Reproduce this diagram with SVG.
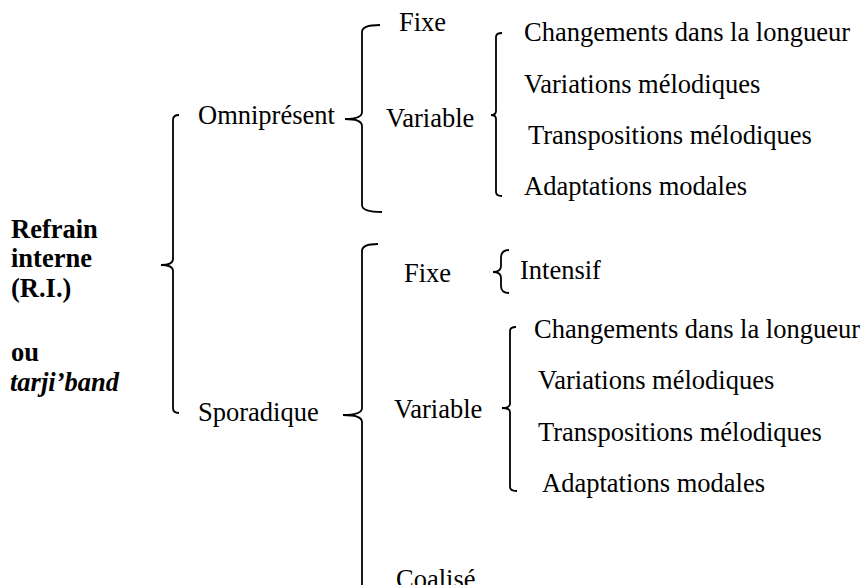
<svg xmlns="http://www.w3.org/2000/svg" width="865" height="585" viewBox="0 0 865 585">
<style>
text{font-family:"Liberation Serif","Times New Roman",serif;font-size:26.5px;fill:#000}
.b{font-weight:bold}
.bi{font-weight:bold;font-style:italic}
.br{fill:none;stroke:#000;stroke-width:1.8;stroke-linecap:butt}
</style>
<rect width="865" height="585" fill="#fff"/>
<g id="connectors">
<path class="br" d="M179,115 Q173,115 173,120 L173,259 Q173,265 161,265 Q173,265 173,271 L173,408 Q173,413 179,413"/>
<path class="br" d="M380,25 Q362,25 362,32 L362,112 Q362,119 345,119 Q362,119 362,126 L362,205 Q362,212 382,212"/>
<path class="br" d="M502,33 Q496,33 496,37 L496,111 Q496,115 491,115 Q496,115 496,119 L496,192 Q496,196 502,196"/>
<path class="br" d="M378,244 Q362,244 362,251 L362,408 Q362,415 343,415 Q362,415 362,422 L362,600"/>
<path class="br" d="M509,250 Q501,250 501,258 L501,266 Q501,272 493,272 Q501,272 501,278 L501,286 Q501,293 509,293"/>
<path class="br" d="M516,327 Q510,327 510,331 L510,404 Q510,408 502,408 Q510,408 510,412 L510,487 Q510,491 517,491"/>
</g>
<g id="root">
<text class="b" x="11" y="238">Refrain</text>
<text class="b" x="11" y="267">interne</text>
<text class="b" x="11" y="297">(R.I.)</text>
<text class="b" x="11" y="361">ou</text>
<text class="bi" x="10" y="391">tarji’band</text>
</g>
<g id="omnipresent"><text x="198" y="124">Omniprésent</text></g>
<g id="omni-fixe"><text x="399" y="31">Fixe</text></g>
<g id="omni-variable"><text x="386" y="127">Variable</text></g>
<g id="omni-variants">
<text x="524" y="41">Changements dans la longueur</text>
<text x="524" y="93">Variations mélodiques</text>
<text x="528" y="144">Transpositions mélodiques</text>
<text x="524" y="195">Adaptations modales</text>
</g>
<g id="sporadique"><text x="198" y="421">Sporadique</text></g>
<g id="spor-fixe"><text x="404" y="282">Fixe</text></g>
<g id="intensif"><text x="520" y="279">Intensif</text></g>
<g id="spor-variable"><text x="394" y="418">Variable</text></g>
<g id="spor-variants">
<text x="534" y="338">Changements dans la longueur</text>
<text x="538" y="389">Variations mélodiques</text>
<text x="538" y="441">Transpositions mélodiques</text>
<text x="542" y="492">Adaptations modales</text>
</g>
<g id="coalise"><text x="396" y="588">Coalisé</text></g>
</svg>
